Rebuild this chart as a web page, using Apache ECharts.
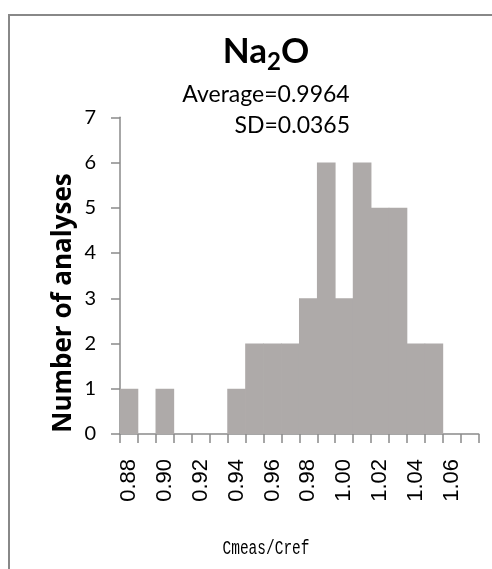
<!DOCTYPE html>
<html>
<head>
<meta charset="utf-8">
<script src="https://cdn.jsdelivr.net/npm/echarts@6/dist/echarts.min.js"></script>
<style>
html,body{margin:0;padding:0;background:#fff;}
#chart{width:492px;height:569px;}
</style>
</head>
<body>
<div id="chart"></div>
<script>
// Histogram bins (Cmeas/Cref) and counts
var categories = ['0.88','0.89','0.90','0.91','0.92','0.93','0.94','0.95','0.96','0.97',
                  '0.98','0.99','1.00','1.01','1.02','1.03','1.04','1.05','1.06','1.07'];
var counts = [1,0,1,0,0,0,1,2,2,2,3,6,3,6,5,5,2,2,0,0];
var yMin = 0, yMax = 7, yInterval = 1;
var titleMain = 'Na', titleSub = '2', titleEnd = 'O';
var statAverage = 'Average=0.9964';
var statSD = 'SD=0.0365';
var yTitle = 'Number of analyses';
var xTitle = 'Cmeas/Cref';

var axisColor = '#8a8a8a';
var barColor = '#aeaaa9';

// measure title pieces to lay out the subscript
var ctx = document.createElement('canvas').getContext('2d');
function tw(font, s) { ctx.font = font; return ctx.measureText(s).width; }
var fMain = 'bold 35px Lato', fSub = 'bold 24px Lato';
var wA = tw(fMain, titleMain), wS = tw(fSub, titleSub), wO = tw(fMain, titleEnd);
var tStart = 266 - (wA + wS + wO) / 2;

var chart = echarts.init(document.getElementById('chart'), null, {renderer: 'canvas'});
chart.setOption({
  animation: false,
  backgroundColor: '#ffffff',
  grid: {left: 120, top: 117.3, right: 13.3, bottom: 135},
  xAxis: {
    type: 'category',
    data: categories,
    boundaryGap: true,
    axisLine: {show: true, lineStyle: {color: axisColor, width: 1.5}},
    axisTick: {show: true, interval: 0, length: 9, alignWithLabel: false, lineStyle: {color: axisColor, width: 1.5}},
    axisLabel: {
      interval: 1, rotate: 90, margin: 25,
      fontFamily: 'Liberation Sans', fontSize: 22, color: '#000'
    },
    splitLine: {show: false}
  },
  yAxis: {
    type: 'value',
    min: yMin, max: yMax, interval: yInterval,
    axisLine: {show: true, lineStyle: {color: axisColor, width: 1.5}},
    axisTick: {show: true, length: 9, lineStyle: {color: axisColor, width: 1.5}},
    axisLabel: {margin: 24, fontFamily: 'Lato', fontSize: 20, color: '#000'},
    splitLine: {show: false}
  },
  series: [{
    type: 'bar',
    data: counts,
    barWidth: '104%',
    barGap: '0%',
    itemStyle: {color: barColor, borderWidth: 0},
    z: 1
  }],
  graphic: [
    {type: 'rect', shape: {x: 9, y: 15, width: 600, height: 600}, style: {fill: 'none', stroke: '#888888', lineWidth: 2}, silent: true},
    {type: 'text', x: tStart, y: 52, style: {text: titleMain, font: fMain, fill: '#000', textAlign: 'left', textVerticalAlign: 'middle'}},
    {type: 'text', x: tStart + wA, y: 62.3, style: {text: titleSub, font: fSub, fill: '#000', textAlign: 'left', textVerticalAlign: 'middle'}},
    {type: 'text', x: tStart + wA + wS, y: 52, style: {text: titleEnd, font: fMain, fill: '#000', textAlign: 'left', textVerticalAlign: 'middle'}},
    {type: 'text', x: 266, y: 94.6, style: {text: statAverage, fontFamily: 'Lato', fontSize: 23, fill: '#000', textAlign: 'center', textVerticalAlign: 'middle'}},
    {type: 'text', x: 350, y: 125.6, style: {text: statSD, fontFamily: 'Lato', fontSize: 23, fill: '#000', textAlign: 'right', textVerticalAlign: 'middle'}},
    {type: 'text', x: 63.6, y: 303, rotation: Math.PI / 2, style: {text: yTitle, fontFamily: 'Open Sans', fontWeight: 'bold', fontSize: 26, fill: '#000', textAlign: 'center', textVerticalAlign: 'middle'}},
    {type: 'text', x: 266, y: 548, scaleY: 1.45, style: {text: xTitle, fontFamily: 'Liberation Mono', fontSize: 14.5, fill: '#000', textAlign: 'center', textVerticalAlign: 'middle'}}
  ]
});
</script>
</body>
</html>
